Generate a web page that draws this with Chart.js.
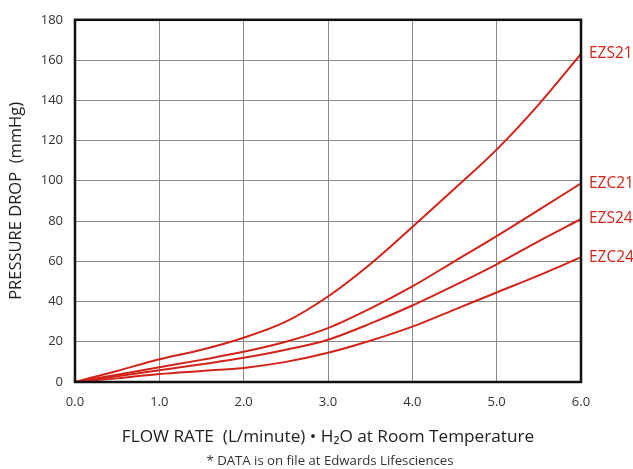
<!DOCTYPE html>
<html lang="en">
<head>
  <meta charset="UTF-8">
  <title>Pressure Drop vs Flow Rate</title>
  <script src="https://cdn.jsdelivr.net/npm/chart.js"></script>
  <style>
    html, body { margin: 0; padding: 0; background: #fff; }
    #wrap { width: 633px; height: 469px; }
  </style>
</head>
<body>
  <div id="wrap"><canvas id="chart" width="633" height="469"></canvas></div>

  <script>
    // flow rate (L/min) sample points
    const flowRates = [0, 0.5, 1, 1.5, 2, 2.5, 3, 3.5, 4, 4.5, 5, 5.5, 6];

    // pressure drop (mmHg) per model
    const ezs21 = [0, 5.5, 11.3, 16, 22, 30, 42.5, 58.5, 77, 96, 115.5, 138, 163];
    const ezc21 = [0, 3.6, 7.3, 11, 15, 20, 26.8, 36.5, 47.5, 60, 72.5, 85.5, 98.7];
    const ezs24 = [0, 2.8, 5.8, 8.8, 12, 16, 21, 29, 38, 48, 58.5, 70, 81];
    const ezc24 = [0, 1.8, 4, 5.5, 7, 10, 14.5, 20.5, 27.5, 36, 44.5, 53, 62];

    const seriesNames = ["EZS21", "EZC21", "EZS24", "EZC24"];
    const seriesValues = [ezs21, ezc21, ezs24, ezc24];

    const RED = "#d2231b";
    const FONT = "'Open Sans', 'DejaVu Sans', sans-serif";

    const datasets = seriesNames.map((name, i) => ({
      label: name,
      data: flowRates.map((x, j) => ({ x: x, y: seriesValues[i][j] })),
      borderColor: RED,
      borderWidth: 2,
      pointRadius: 0,
      fill: false,
      cubicInterpolationMode: "monotone"
    }));

    // frame + end labels + footnote
    const extras = {
      id: "extras",
      afterDatasetsDraw(chart) {
        const { ctx, chartArea: a, scales } = chart;
        ctx.save();
        ctx.strokeStyle = "#111";
        ctx.lineWidth = 2.5;
        ctx.strokeRect(a.left, a.top, a.right - a.left, a.bottom - a.top);

        ctx.fillStyle = RED;
        ctx.font = "15.5px " + FONT;
        ctx.textAlign = "left";
        ctx.textBaseline = "middle";
        chart.data.datasets.forEach(ds => {
          const last = ds.data[ds.data.length - 1];
          ctx.fillText(ds.label, a.right + 8, scales.y.getPixelForValue(last.y));
        });

        ctx.fillStyle = "#333";
        ctx.font = "13.2px " + FONT;
        ctx.textAlign = "center";
        ctx.fillText("* DATA is on file at Edwards Lifesciences", 330, 461);
        ctx.restore();
      }
    };

    new Chart(document.getElementById("chart"), {
      type: "line",
      data: { datasets },
      plugins: [extras],
      options: {
        responsive: false,
        animation: false,
        layout: { padding: { top: 16, right: 52, left: 0, bottom: 0 } },
        plugins: { legend: { display: false }, tooltip: { enabled: false } },
        scales: {
          x: {
            type: "linear",
            min: 0,
            max: 6,
            afterFit(s) { s.height = 87; },
            grid: { color: "#8a8a8a", lineWidth: 1, drawTicks: false },
            border: { display: false },
            ticks: {
              stepSize: 1,
              padding: 12,
              color: "#333",
              font: { family: FONT, size: 13 },
              callback: v => Number(v).toFixed(1)
            },
            title: {
              display: true,
              text: "FLOW RATE  (L/minute) • H₂O at Room Temperature",
              color: "#222",
              font: { family: FONT, size: 17.2 },
              padding: { top: 0, bottom: 22 }
            }
          },
          y: {
            min: 0,
            max: 180,
            afterFit(s) { s.width = 75; },
            grid: { color: "#8a8a8a", lineWidth: 1, drawTicks: false },
            border: { display: false },
            ticks: {
              stepSize: 20,
              padding: 12,
              color: "#333",
              font: { family: FONT, size: 13 }
            },
            title: {
              display: true,
              text: "PRESSURE DROP  (mmHg)",
              color: "#222",
              font: { family: FONT, size: 16.5 },
              padding: { top: 6, bottom: 0 }
            }
          }
        }
      }
    });
  </script>
</body>
</html>
